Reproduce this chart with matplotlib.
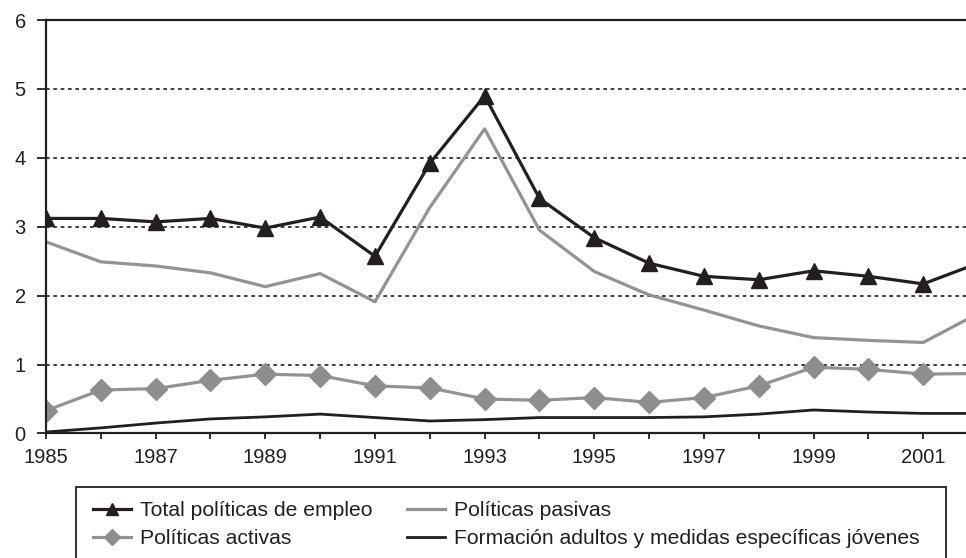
import matplotlib.pyplot as plt
from matplotlib.patches import Rectangle

plt.rcParams['font.family'] = ['Liberation Sans', 'DejaVu Sans']

# Gasto en políticas de empleo, 1985-2002
years = list(range(1985, 2003))
total = [3.12, 3.12, 3.07, 3.12, 2.98, 3.14, 2.57, 3.92, 4.90, 3.41, 2.84, 2.47,
         2.28, 2.23, 2.36, 2.28, 2.17, 2.47]
pasivas = [2.78, 2.49, 2.43, 2.33, 2.13, 2.32, 1.91, 3.28, 4.42, 2.95, 2.35, 2.01,
           1.79, 1.56, 1.39, 1.35, 1.32, 1.74]
activas = [0.33, 0.63, 0.65, 0.77, 0.86, 0.84, 0.69, 0.66, 0.50, 0.48, 0.52, 0.45,
           0.52, 0.69, 0.96, 0.93, 0.86, 0.87]
formacion = [0.02, 0.08, 0.15, 0.21, 0.24, 0.28, 0.23, 0.18, 0.20, 0.23, 0.23, 0.23,
             0.24, 0.28, 0.34, 0.31, 0.29, 0.29]

labels = ["Total políticas de empleo", "Políticas activas",
          "Políticas pasivas", "Formación adultos y medidas específicas jóvenes"]

negro = "#231f20"
gris = "#939393"

fig = plt.figure(figsize=(9.66, 5.58), dpi=100)
W, H = 966, 558
ax = fig.add_axes([46 / W, 1 - 433.4 / H, (W - 46) / W, (433.4 - 20) / H])

l_pas, = ax.plot(years, pasivas, color=gris, lw=2.3, label=labels[2])
l_for, = ax.plot(years, formacion, color=negro, lw=2.0, label=labels[3])
l_act, = ax.plot(years, activas, color=gris, lw=2.3, marker="D", ms=11.5,
                 markerfacecolor="#8e8e90", markeredgecolor="#8e8e90", label=labels[1])
l_tot, = ax.plot(years, total, color=negro, lw=2.3, marker="^", ms=12,
                 markerfacecolor=negro, markeredgecolor=negro, label=labels[0])

ax.set_xlim(1985, 1985 + (W - 46) / 54.83)
ax.set_ylim(0, 6)
ax.set_yticks(range(0, 7))
ax.set_xticks(years[:-1])
ax.set_xticklabels([str(y) if (y - 1985) % 2 == 0 else "" for y in years[:-1]])

for v in range(1, 6):
    ax.axhline(v, color=negro, lw=1.2, ls=(0, (2.2, 2.2)), zorder=0)

for s in ["left", "bottom", "top"]:
    ax.spines[s].set_color(negro)
    ax.spines[s].set_linewidth(1.6)
ax.spines["right"].set_visible(False)
ax.tick_params(axis="both", direction="out", width=1.3, color=negro,
               labelsize=14.5, labelcolor=negro)
ax.tick_params(axis="y", length=6.5, pad=8)
ax.tick_params(axis="x", length=4.3, pad=6)

# Caja de la leyenda, abierta por abajo
fig.patches.append(Rectangle((75.7 / W, -0.05), (945.7 - 75.7) / W, 0.05 + 1 - 487.3 / H,
                             transform=fig.transFigure, fill=False, edgecolor=negro,
                             lw=1.3))
fig.legend([l_tot, l_act, l_pas, l_for], labels, ncol=2, frameon=False,
           loc="upper left", bbox_to_anchor=(93 / W, 1 - 501 / H),
           borderpad=0, borderaxespad=0, fontsize=15.2, handlelength=1.8,
           handletextpad=0.45, columnspacing=1.6, labelspacing=0.45,
           labelcolor=negro, markerscale=0.72)

fig.savefig("out.png", dpi=100)
